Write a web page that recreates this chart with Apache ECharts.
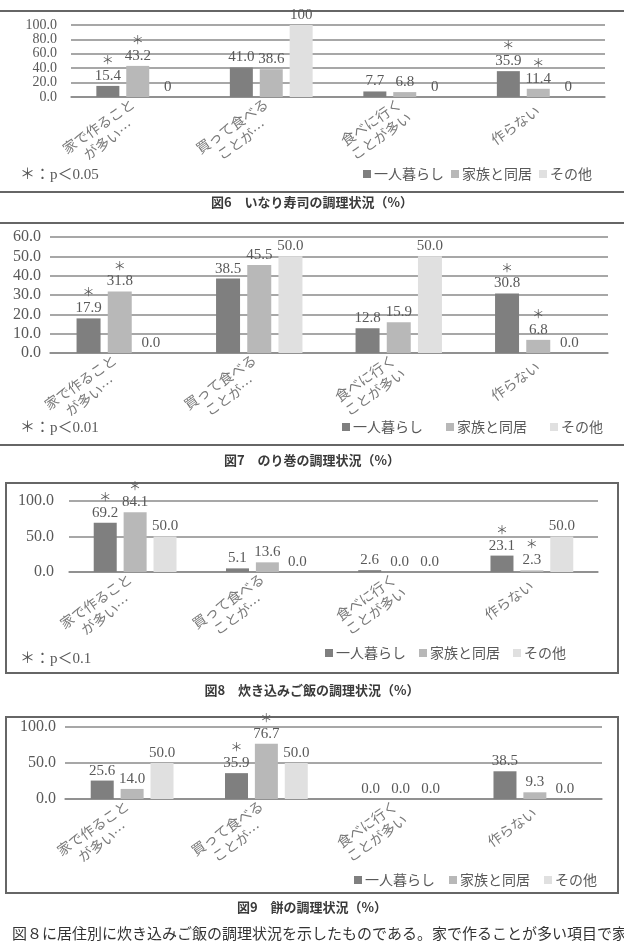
<!DOCTYPE html>
<html>
<head>
<meta charset="utf-8">
<script src="https://cdn.jsdelivr.net/npm/echarts@6/dist/echarts.min.js"></script>
<style>
html, body { margin: 0; padding: 0; background: #fff; }
#main { width: 624px; height: 950px; }
</style>
</head>
<body>
<div id="main"></div>
<script>
// categories and group names shared by all four figures
const categories = ['家で作ること\nが多い…', '買って食べる\nことが…', '食べに行く\nことが多い', '作らない'];
const groupNames = ['一人暮らし', '家族と同居', 'その他'];

// 図6 いなり寿司
const fig6Alone = [15.4, 41.0, 7.7, 35.9];
const fig6Family = [43.2, 38.6, 6.8, 11.4];
const fig6Other = [0, 100, 0, 0];
const fig6Sig = [[1, 0, 0, 1], [1, 0, 0, 1], [0, 0, 0, 0]];
const fig6Axis = [0, 100, 20];

// 図7 のり巻
const fig7Alone = [17.9, 38.5, 12.8, 30.8];
const fig7Family = [31.8, 45.5, 15.9, 6.8];
const fig7Other = [0.0, 50.0, 50.0, 0.0];
const fig7Sig = [[1, 0, 0, 1], [1, 0, 0, 1], [0, 0, 0, 0]];
const fig7Axis = [0, 60, 10];

// 図8 炊き込みご飯
const fig8Alone = [69.2, 5.1, 2.6, 23.1];
const fig8Family = [84.1, 13.6, 0.0, 2.3];
const fig8Other = [50.0, 0.0, 0.0, 50.0];
const fig8Sig = [[1, 0, 0, 1], [1, 0, 0, 1], [0, 0, 0, 0]];
const fig8Axis = [0, 100, 50];

// 図9 餅
const fig9Alone = [25.6, 35.9, 0.0, 38.5];
const fig9Family = [14.0, 76.7, 0.0, 9.3];
const fig9Other = [50.0, 50.0, 0.0, 0.0];
const fig9Sig = [[0, 1, 0, 0], [0, 1, 0, 0], [0, 0, 0, 0]];
const fig9Axis = [0, 100, 50];

const colors = ['#7f7f7f', '#b8b8b8', '#e0e0e0'];
const serif = '"Liberation Serif", "Noto Sans CJK JP", serif';
const sans = '"Noto Sans CJK JP", sans-serif';
const textGray = '#595959';
const lineGray = '#8a8a8a';

const figs = [
    {
        values: [fig6Alone, fig6Family, fig6Other], sig: fig6Sig, axis: fig6Axis, intOther: true,
        grid: { left: 71, right: 19, top: 25, height: 72 }, yMargin: 14, yFont: 14, barWidth: 23,
        legendLeft: 363, legendTop: 167, legendGap: 7,
        note: '＊：p＜0.05', noteTop: 177,
        caption: '図6　いなり寿司の調理状況（%）', captionTop: 205
    },
    {
        values: [fig7Alone, fig7Family, fig7Other], sig: fig7Sig, axis: fig7Axis, intOther: false,
        grid: { left: 50, right: 16, top: 237, height: 116 }, yMargin: 9, yFont: 16, barWidth: 24,
        legendLeft: 342, legendTop: 420, legendGap: 23,
        note: '＊：p＜0.01', noteTop: 430,
        caption: '図7　のり巻の調理状況（%）', captionTop: 463
    },
    {
        values: [fig8Alone, fig8Family, fig8Other], sig: fig8Sig, axis: fig8Axis, intOther: false,
        grid: { left: 69, right: 26, top: 501, height: 71 }, yMargin: 15, yFont: 16, barWidth: 23,
        legendLeft: 325, legendTop: 646, legendGap: 13,
        note: '＊：p＜0.1', noteTop: 661,
        caption: '図8　炊き込みご飯の調理状況（%）', captionTop: 693
    },
    {
        values: [fig9Alone, fig9Family, fig9Other], sig: fig9Sig, axis: fig9Axis, intOther: false,
        grid: { left: 65, right: 22, top: 727, height: 72 }, yMargin: 9, yFont: 16, barWidth: 23,
        legendLeft: 354, legendTop: 873, legendGap: 14,
        note: '', noteTop: 0,
        caption: '図9　餅の調理状況（%）', captionTop: 910
    }
];

const fmt = (v, asInt) => asInt ? String(Math.round(v)) : v.toFixed(1);

const grids = [], xAxes = [], yAxes = [], series = [], legends = [], graphics = [];

figs.forEach((fig, f) => {
    grids.push(Object.assign({ outerBoundsMode: 'none' }, fig.grid));
    xAxes.push({
        type: 'category',
        gridIndex: f,
        data: categories,
        axisTick: { show: false },
        axisLine: { lineStyle: { color: lineGray, width: 1.5 } },
        axisLabel: {
            interval: 0,
            rotate: 35,
            margin: 12,
            // each line centred inside the rotated block
            formatter: v => v.split('\n').map(s => '{c|' + s + '}').join('\n'),
            rich: {
                c: { fontFamily: sans, fontSize: 14, lineHeight: 17, color: '#7a7a7a', align: 'center' }
            }
        }
    });
    yAxes.push({
        type: 'value',
        gridIndex: f,
        min: fig.axis[0],
        max: fig.axis[1],
        interval: fig.axis[2],
        axisLine: { show: false },
        axisTick: { show: false },
        axisLabel: {
            formatter: v => v.toFixed(1),
            fontFamily: serif,
            fontSize: fig.yFont,
            color: textGray,
            margin: fig.yMargin,
            showMinLabel: true,
            showMaxLabel: true
        },
        splitLine: { lineStyle: { color: lineGray, width: 1.5 } }
    });
    fig.values.forEach((vals, g) => {
        series.push({
            type: 'bar',
            name: groupNames[g],
            xAxisIndex: f,
            yAxisIndex: f,
            data: vals,
            barWidth: fig.barWidth,
            barGap: '30%',
            itemStyle: { color: colors[g] },
            emphasis: { disabled: true },
            label: {
                show: true,
                position: 'top',
                distance: 2,
                formatter: p => (fig.sig[g][p.dataIndex] ? '{s|＊}\n' : '') +
                    '{v|' + fmt(p.value, fig.intOther && g === 2) + '}',
                rich: {
                    s: { fontFamily: sans, fontSize: 12, color: textGray, lineHeight: 15, align: 'center' },
                    v: { fontFamily: serif, fontSize: 15, color: textGray, lineHeight: 16, align: 'center' }
                }
            }
        });
    });
    legends.push({
        data: groupNames,
        left: fig.legendLeft,
        top: fig.legendTop,
        itemGap: fig.legendGap,
        icon: 'rect',
        itemWidth: 8,
        itemHeight: 8,
        padding: 0,
        textStyle: { fontFamily: sans, fontSize: 14, color: textGray, padding: [0, 0, 0, -2] }
    });
    if (fig.note) {
        graphics.push({
            type: 'text', left: 20, top: fig.noteTop - 9,
            style: { text: fig.note, font: '15px ' + serif, fill: textGray }
        });
    }
    graphics.push({
        type: 'text', left: 'center', top: fig.captionTop - 9,
        style: { text: fig.caption, font: 'bold 13px ' + sans, fill: '#3a3a3a' }
    });
});

// frames round the figures
const frame = { stroke: '#666', lineWidth: 2, fill: null };
graphics.push(
    { type: 'line', shape: { x1: 0, y1: 11, x2: 624, y2: 11 }, style: frame },
    { type: 'line', shape: { x1: 0, y1: 192, x2: 624, y2: 192 }, style: frame },
    { type: 'line', shape: { x1: 0, y1: 223, x2: 624, y2: 223 }, style: frame },
    { type: 'line', shape: { x1: 0, y1: 445, x2: 624, y2: 445 }, style: frame },
    { type: 'rect', shape: { x: 6, y: 483, width: 612, height: 190 }, style: frame },
    { type: 'rect', shape: { x: 6, y: 717, width: 612, height: 176 }, style: frame },
    {
        type: 'text', left: 12, top: 926,
        style: {
            text: '図８に居住別に炊き込みご飯の調理状況を示したものである。家で作ることが多い項目で家',
            font: '15px ' + sans, fill: '#333'
        }
    }
);

const myChart = echarts.init(document.getElementById('main'));
myChart.setOption({
    animation: false,
    grid: grids,
    xAxis: xAxes,
    yAxis: yAxes,
    legend: legends,
    series: series,
    graphic: graphics
});
</script>
</body>
</html>
